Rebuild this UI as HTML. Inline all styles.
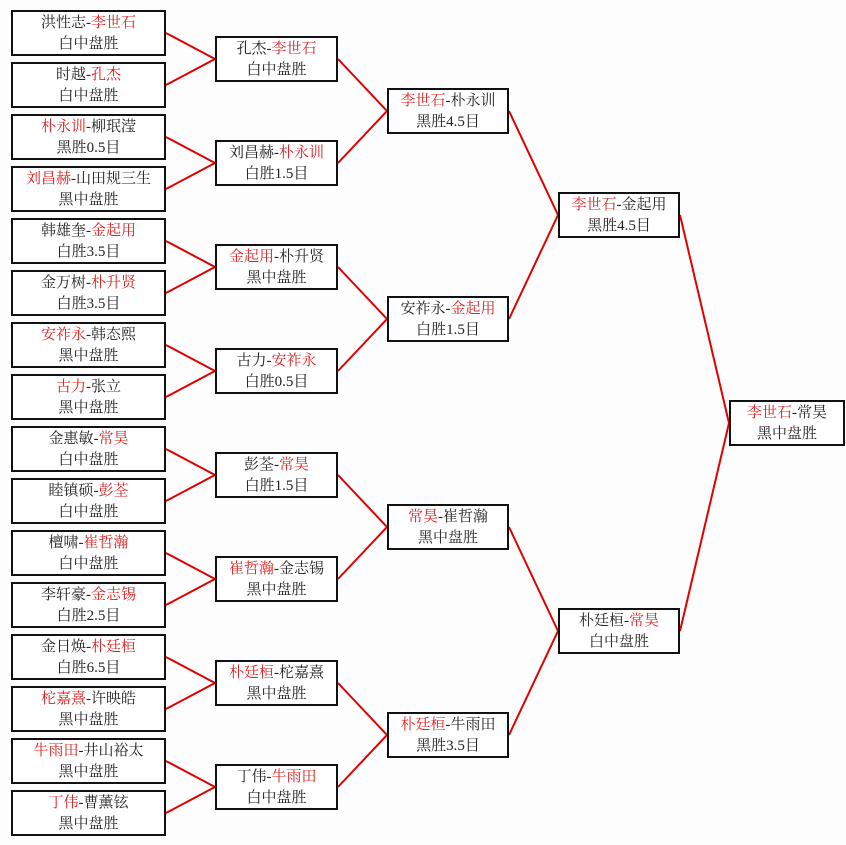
<!DOCTYPE html>
<html><head><meta charset="utf-8"><style>
html,body{margin:0;padding:0;}
body{width:846px;height:845px;background:#fdfdfd;position:relative;overflow:hidden;font-family:"Liberation Serif","Noto Serif CJK SC","WenQuanYi Zen Hei",serif;font-size:15px;color:#222;}
.b{position:absolute;box-sizing:border-box;border:2px solid #111;background:#fff;height:46px;text-align:center;line-height:21px;padding-top:1px;white-space:nowrap;}
.r{color:#e02020;}
.c1{left:11px;width:155px;}
.c2{left:215px;width:123px;}
.c3{left:387px;width:122px;}
.c4{left:558px;width:122px;}
.c5{left:729px;width:116px;}
svg{position:absolute;left:0;top:0;}
</style></head><body>
<svg width="846" height="845"><g stroke="#e00000" stroke-width="2" fill="none">
<path d="M166 33L215 59L166 85M166 137L215 163L166 189M166 241L215 267L166 293M166 345L215 371L166 397M166 449L215 475L166 501M166 553L215 579L166 605M166 657L215 683L166 709M166 761L215 787L166 813"/>
<path d="M338 59L387 111L338 163M338 267L387 319L338 371M338 475L387 527L338 579M338 683L387 735L338 787"/>
<path d="M509 111L558 215L509 319M509 527L558 631L509 735"/>
<path d="M680 215L729 423L680 631"/>
</g></svg>

<div class="b c1" style="top:10px">洪性志-<span class="r">李世石</span><br>白中盘胜</div>
<div class="b c1" style="top:62px">时越-<span class="r">孔杰</span><br>白中盘胜</div>
<div class="b c1" style="top:114px"><span class="r">朴永训</span>-柳珉滢<br>黑胜0.5目</div>
<div class="b c1" style="top:166px"><span class="r">刘昌赫</span>-山田规三生<br>黑中盘胜</div>
<div class="b c1" style="top:218px">韩雄奎-<span class="r">金起用</span><br>白胜3.5目</div>
<div class="b c1" style="top:270px">金万树-<span class="r">朴升贤</span><br>白胜3.5目</div>
<div class="b c1" style="top:322px"><span class="r">安祚永</span>-韩态熙<br>黑中盘胜</div>
<div class="b c1" style="top:374px"><span class="r">古力</span>-张立<br>黑中盘胜</div>
<div class="b c1" style="top:426px">金惠敏-<span class="r">常昊</span><br>白中盘胜</div>
<div class="b c1" style="top:478px">睦镇硕-<span class="r">彭荃</span><br>白中盘胜</div>
<div class="b c1" style="top:530px">檀啸-<span class="r">崔哲瀚</span><br>白中盘胜</div>
<div class="b c1" style="top:582px">李轩豪-<span class="r">金志锡</span><br>白胜2.5目</div>
<div class="b c1" style="top:634px">金日焕-<span class="r">朴廷桓</span><br>白胜6.5目</div>
<div class="b c1" style="top:686px"><span class="r">柁嘉熹</span>-许映皓<br>黑中盘胜</div>
<div class="b c1" style="top:738px"><span class="r">牛雨田</span>-井山裕太<br>黑中盘胜</div>
<div class="b c1" style="top:790px"><span class="r">丁伟</span>-曹薰铉<br>黑中盘胜</div>

<div class="b c2" style="top:36px">孔杰-<span class="r">李世石</span><br>白中盘胜</div>
<div class="b c2" style="top:140px">刘昌赫-<span class="r">朴永训</span><br>白胜1.5目</div>
<div class="b c2" style="top:244px"><span class="r">金起用</span>-朴升贤<br>黑中盘胜</div>
<div class="b c2" style="top:348px">古力-<span class="r">安祚永</span><br>白胜0.5目</div>
<div class="b c2" style="top:452px">彭荃-<span class="r">常昊</span><br>白胜1.5目</div>
<div class="b c2" style="top:556px"><span class="r">崔哲瀚</span>-金志锡<br>黑中盘胜</div>
<div class="b c2" style="top:660px"><span class="r">朴廷桓</span>-柁嘉熹<br>黑中盘胜</div>
<div class="b c2" style="top:764px">丁伟-<span class="r">牛雨田</span><br>白中盘胜</div>

<div class="b c3" style="top:88px"><span class="r">李世石</span>-朴永训<br>黑胜4.5目</div>
<div class="b c3" style="top:296px">安祚永-<span class="r">金起用</span><br>白胜1.5目</div>
<div class="b c3" style="top:504px"><span class="r">常昊</span>-崔哲瀚<br>黑中盘胜</div>
<div class="b c3" style="top:712px"><span class="r">朴廷桓</span>-牛雨田<br>黑胜3.5目</div>

<div class="b c4" style="top:192px"><span class="r">李世石</span>-金起用<br>黑胜4.5目</div>
<div class="b c4" style="top:608px">朴廷桓-<span class="r">常昊</span><br>白中盘胜</div>

<div class="b c5" style="top:400px"><span class="r">李世石</span>-常昊<br>黑中盘胜</div>
</body></html>
